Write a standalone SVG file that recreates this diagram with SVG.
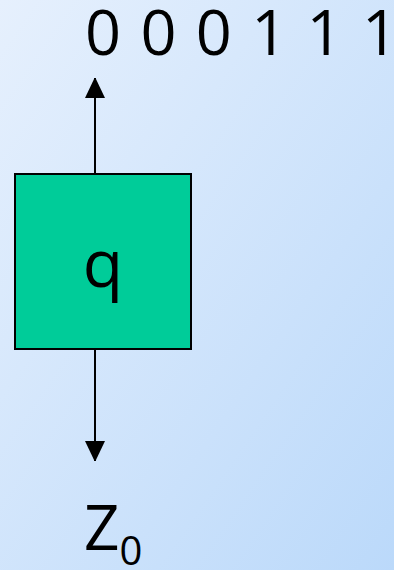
<svg xmlns="http://www.w3.org/2000/svg" width="394" height="570" viewBox="0 0 394 570">
<defs>
<linearGradient id="bg" x1="0" y1="0" x2="1" y2="1">
<stop offset="0" stop-color="#E6F0FD"/>
<stop offset="1" stop-color="#BBD9FA"/>
</linearGradient>
<marker id="ah" viewBox="0 0 20 21" refX="20" refY="10" markerWidth="20" markerHeight="21" markerUnits="userSpaceOnUse" orient="auto">
<path d="M0,0 L21,10 L0,20 Z" fill="#000"/>
</marker>
<style>
.t{font-family:"Open Sans","Noto Sans",sans-serif;fill:#000}
.c{stroke:#000;stroke-width:2;fill:none}
</style>
</defs>
<rect width="394" height="570" fill="url(#bg)"/>
<g id="output">
<text class="t" x="85" y="55" font-size="63" word-spacing="3">0 0 0 1 1 1</text>
</g>
<g id="q">
<rect x="15" y="174" width="176" height="175" fill="#00CC99" stroke="#000" stroke-width="2"/>
<text class="t" x="103" y="287" font-size="66" text-anchor="middle">q</text>
</g>
<g id="z0">
<text class="t" x="84" y="550" font-size="62">Z<tspan font-size="40" dy="15">0</tspan></text>
</g>
<g id="connectors">
<line class="c" x1="95" y1="173" x2="95" y2="78" marker-end="url(#ah)"/>
<line class="c" x1="95" y1="350" x2="95" y2="461" marker-end="url(#ah)"/>
</g>
</svg>
